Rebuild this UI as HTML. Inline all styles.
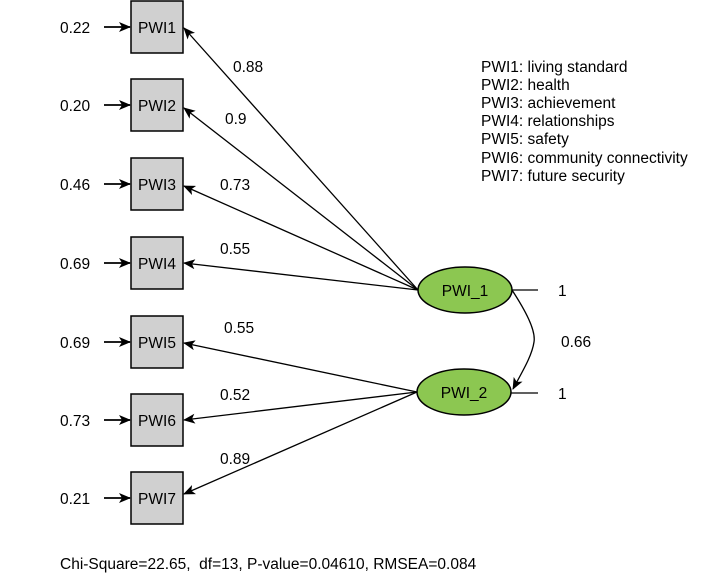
<!DOCTYPE html>
<html><head><style>
html,body{margin:0;padding:0;background:#fff;}
svg{display:block;font-family:"Liberation Sans",Arial,sans-serif;}
</style></head><body>
<svg width="701" height="577" viewBox="0 0 701 577" xmlns="http://www.w3.org/2000/svg">
<defs>
<marker id="a" markerWidth="12" markerHeight="10" refX="11" refY="5" orient="auto" markerUnits="userSpaceOnUse">
<path d="M0,0 L12,5 L0,10 L3,5 Z" fill="#000"/>
</marker>
</defs>
<g font-size="15.5" fill="#000">
<g stroke="#000" stroke-width="1.5" fill="#d0d0d0">
<rect x="131" y="1" width="52" height="52"/>
<rect x="131" y="79" width="52" height="52"/>
<rect x="131" y="158" width="52" height="52"/>
<rect x="131" y="237" width="52" height="52"/>
<rect x="131" y="316" width="52" height="52"/>
<rect x="131" y="394" width="52" height="52"/>
<rect x="131" y="472" width="52" height="52"/>
</g>
<g text-anchor="middle">
<text x="157" y="33">PWI1</text>
<text x="157" y="111">PWI2</text>
<text x="157" y="190">PWI3</text>
<text x="157" y="269">PWI4</text>
<text x="157" y="348">PWI5</text>
<text x="157" y="426">PWI6</text>
<text x="157" y="504">PWI7</text>
</g>
<g stroke="#000" stroke-width="1.8" marker-end="url(#a)">
<line x1="104" y1="27" x2="130" y2="27"/>
<line x1="104" y1="105" x2="130" y2="105"/>
<line x1="104" y1="184" x2="130" y2="184"/>
<line x1="104" y1="263" x2="130" y2="263"/>
<line x1="104" y1="342" x2="130" y2="342"/>
<line x1="104" y1="420" x2="130" y2="420"/>
<line x1="104" y1="498" x2="130" y2="498"/>
</g>
<g>
<text x="60" y="33">0.22</text>
<text x="60" y="111">0.20</text>
<text x="60" y="190">0.46</text>
<text x="60" y="269">0.69</text>
<text x="60" y="348">0.69</text>
<text x="60" y="426">0.73</text>
<text x="60" y="504">0.21</text>
</g>
<g stroke="#000" stroke-width="1.3" marker-end="url(#a)">
<line x1="418" y1="290" x2="184" y2="28"/>
<line x1="418" y1="290" x2="184" y2="108"/>
<line x1="418" y1="290" x2="184" y2="186"/>
<line x1="418" y1="290" x2="184" y2="263"/>
<line x1="417" y1="392" x2="184" y2="343"/>
<line x1="417" y1="392" x2="184" y2="420"/>
<line x1="417" y1="392" x2="184" y2="494"/>
</g>
<text x="233" y="72">0.88</text>
<text x="225" y="124">0.9</text>
<text x="220" y="190">0.73</text>
<text x="220" y="254">0.55</text>
<text x="224" y="333">0.55</text>
<text x="220" y="400">0.52</text>
<text x="220" y="464">0.89</text>
<ellipse cx="465" cy="290" rx="47" ry="23" fill="#8cc751" stroke="#000" stroke-width="1.5"/>
<ellipse cx="464" cy="392" rx="47" ry="23" fill="#8cc751" stroke="#000" stroke-width="1.5"/>
<text x="465" y="296" text-anchor="middle">PWI_1</text>
<text x="464" y="398" text-anchor="middle">PWI_2</text>
<line x1="512" y1="290" x2="538" y2="290" stroke="#000" stroke-width="1.3"/>
<line x1="511" y1="393" x2="538" y2="393" stroke="#000" stroke-width="1.3"/>
<text x="558" y="296">1</text>
<text x="558" y="399">1</text>
<path d="M512,290 C525,310 536,330 534,342 C532,356 522,372 513,389" fill="none" stroke="#000" stroke-width="1.3" marker-end="url(#a)"/>
<text x="561" y="347">0.66</text>
<g>
<text x="481" y="72">PWI1: living standard</text>
<text x="481" y="90">PWI2: health</text>
<text x="481" y="108">PWI3: achievement</text>
<text x="481" y="126">PWI4: relationships</text>
<text x="481" y="144">PWI5: safety</text>
<text x="481" y="163">PWI6: community connectivity</text>
<text x="481" y="181">PWI7: future security</text>
</g>
<text x="60" y="569" xml:space="preserve">Chi-Square=22.65,  df=13, P-value=0.04610, RMSEA=0.084</text>
</g>
</svg>
</body></html>
